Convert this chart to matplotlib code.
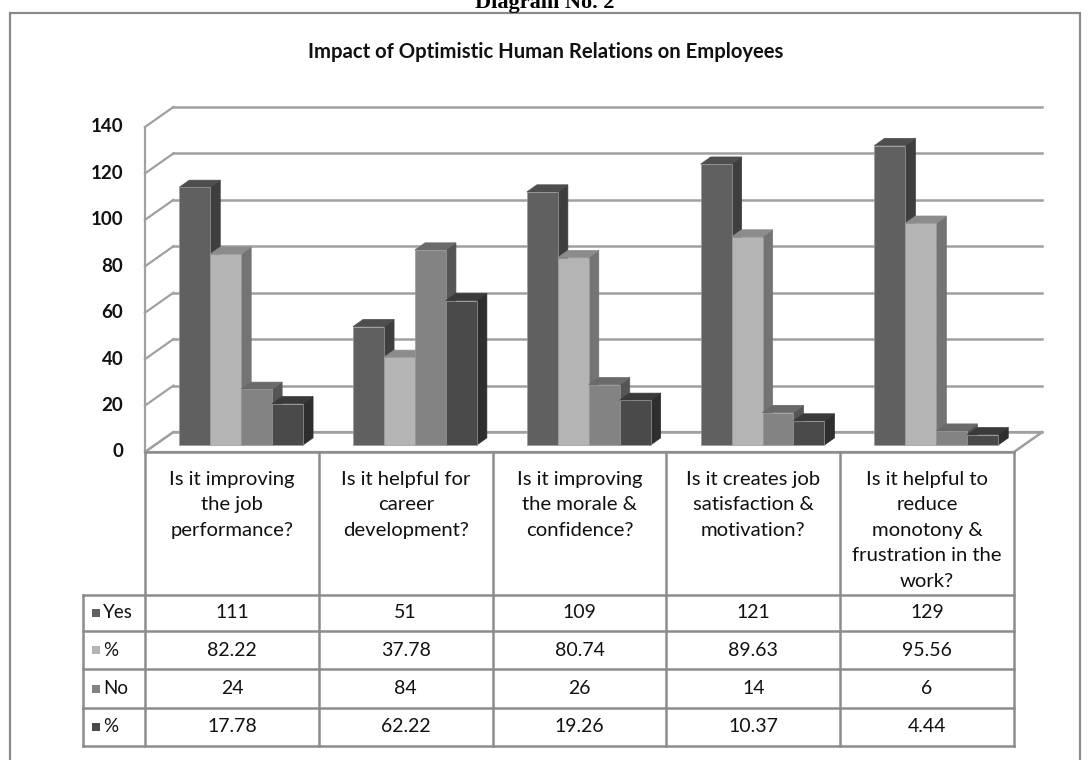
import matplotlib
matplotlib.use("Agg")
import matplotlib.pyplot as plt
from matplotlib.patches import Polygon, Rectangle

# ---------------- data ----------------
categories = [
    "Is it improving\nthe job\nperformance?",
    "Is it helpful for\ncareer\ndevelopment?",
    "Is it improving\nthe morale &\nconfidence?",
    "Is it creates job\nsatisfaction &\nmotivation?",
    "Is it helpful to\nreduce\nmonotony &\nfrustration in the\nwork?",
]
series_names = ["Yes", "%", "No", "%"]
yes_vals = [111, 51, 109, 121, 129]
yes_pct = [82.22, 37.78, 80.74, 89.63, 95.56]
no_vals = [24, 84, 26, 14, 6]
no_pct = [17.78, 62.22, 19.26, 10.37, 4.44]
y_ticks = [0, 20, 40, 60, 80, 100, 120, 140]

series = [yes_vals, yes_pct, no_vals, no_pct]
table_text = [
    [str(v) for v in yes_vals],
    [f"{v:.2f}" for v in yes_pct],
    [str(v) for v in no_vals],
    [f"{v:.2f}" for v in no_pct],
]

# colours: (front, side, top)
face_cols = [
    ("#606060", "#3e3e3e", "#4e4e4e"),
    ("#b4b4b4", "#747474", "#8c8c8c"),
    ("#838383", "#555555", "#6a6a6a"),
    ("#4a4a4a", "#2e2e2e", "#3a3a3a"),
]
grid_col = "#a0a0a0"
line_col = "#8c8c8c"

FONT = ["Lato", "DejaVu Sans"]
plt.rcParams["font.family"] = FONT

W, H = 1088, 760
fig = plt.figure(figsize=(W / 100, H / 100), dpi=100)


def fx(x):
    return x / W


def fy(y):
    return 1 - y / H


# heading above the chart (partly cut off, as in the source page)
fig.text(fx(545), fy(8), "Diagram No. 2", ha="center", va="baseline",
         fontsize=16, fontweight="bold", family=["Liberation Serif", "DejaVu Serif"])

# outer chart border
fig.add_artist(Rectangle((fx(10), fy(800)), (1080 - 10) / W, (800 - 13) / H,
                         fill=False, edgecolor="#8a8a8a", lw=1.6,
                         transform=fig.transFigure))

# title
fig.text(fx(546), fy(52), "Impact of Optimistic Human Relations on Employees",
         ha="center", va="center", fontsize=14.6, fontweight="bold", color="#111111")

# ---------------- 3D-looking bar chart ----------------
ax = fig.add_axes([fx(145), fy(452), (1014 - 145) / W, (452 - 127) / H])
ax.set_xlim(0, 5)
ax.set_ylim(0, 140)
ax.axis("off")

n = len(categories)
DX, DY = 0.163, 8.6          # wall depth
BW = 0.178                   # bar width
OFF = 0.141                  # group padding
BSX, BSY = 0.056, 3.0        # bar position in depth
BDX, BDY = 0.058, 3.1        # bar depth

# floor
ax.add_patch(Polygon([(0, 0), (n, 0), (n + DX, DY), (DX, DY)], closed=True,
                     facecolor="white", edgecolor=grid_col, lw=1.6, clip_on=False, zorder=1))
# walls grid
for t in y_ticks:
    ax.plot([DX, n + DX], [t + DY, t + DY], color=grid_col, lw=1.8, clip_on=False, zorder=1)
    ax.plot([0, DX], [t, t + DY], color=grid_col, lw=1.6, clip_on=False, zorder=1)
ax.plot([0, 0], [0, y_ticks[-1]], color=grid_col, lw=1.6, clip_on=False, zorder=1)
ax.plot([n, n + DX], [0, DY], color=grid_col, lw=1.6, clip_on=False, zorder=1)

z = 2
for i in range(n):
    for j, vals in enumerate(series):
        v = vals[i]
        x0 = i + OFF + BSX + j * BW
        x1 = x0 + BW
        y0 = BSY
        y1 = y0 + v
        front, side, top = face_cols[j]
        ax.add_patch(Polygon([(x1, y0), (x1 + BDX, y0 + BDY), (x1 + BDX, y1 + BDY), (x1, y1)],
                             closed=True, facecolor=side, edgecolor=side, lw=0.5,
                             clip_on=False, zorder=z))
        ax.add_patch(Polygon([(x0, y1), (x1, y1), (x1 + BDX, y1 + BDY), (x0 + BDX, y1 + BDY)],
                             closed=True, facecolor=top, edgecolor=top, lw=0.5,
                             clip_on=False, zorder=z))
        ax.add_patch(Rectangle((x0, y0), BW, v, facecolor=front, edgecolor="#9a9a9a",
                               lw=0.5, clip_on=False, zorder=z + 0.5))
        z += 1

for t in y_ticks:
    ax.text(-0.125, t, str(t), ha="right", va="center", fontsize=13.5,
            fontweight="bold", color="#111111", clip_on=False)

# ---------------- data table ----------------
tax = fig.add_axes([fx(145), fy(746), (1014 - 145) / W, (746 - 452) / H])
tax.set_xlim(0, 5)
tax.set_ylim(294, 0)
tax.axis("off")

row_edges = [143, 179, 217, 256, 294]
LX = (83 - 145) / 173.8

tax.plot([0, n], [0, 0], color=line_col, lw=1.8, clip_on=False)
for i in range(n + 1):
    tax.plot([i, i], [0, 294], color=line_col, lw=1.8, clip_on=False)
for r in row_edges:
    tax.plot([LX, n], [r, r], color=line_col, lw=1.8, clip_on=False, zorder=3)
tax.plot([LX, LX], [row_edges[0], row_edges[-1]], color=line_col, lw=1.8, clip_on=False)

for i, cat in enumerate(categories):
    tax.text(i + 0.5, 19, cat, ha="center", va="top", fontsize=14.6,
             linespacing=1.6, color="#111111", clip_on=False, zorder=1)

sq = 8 / 173.8
for r, name in enumerate(series_names):
    yc = (row_edges[r] + row_edges[r + 1]) / 2
    tax.add_patch(Rectangle((-0.305, yc - 4), sq, 8, facecolor=face_cols[r][0],
                            edgecolor="none", clip_on=False))
    tax.text(-0.242, yc, name, ha="left", va="center", fontsize=13.5,
             color="#111111", clip_on=False)
    for i in range(n):
        tax.text(i + 0.5, yc, table_text[r][i], ha="center", va="center",
                 fontsize=14, color="#111111", clip_on=False)

fig.savefig("out.png", dpi=100)
